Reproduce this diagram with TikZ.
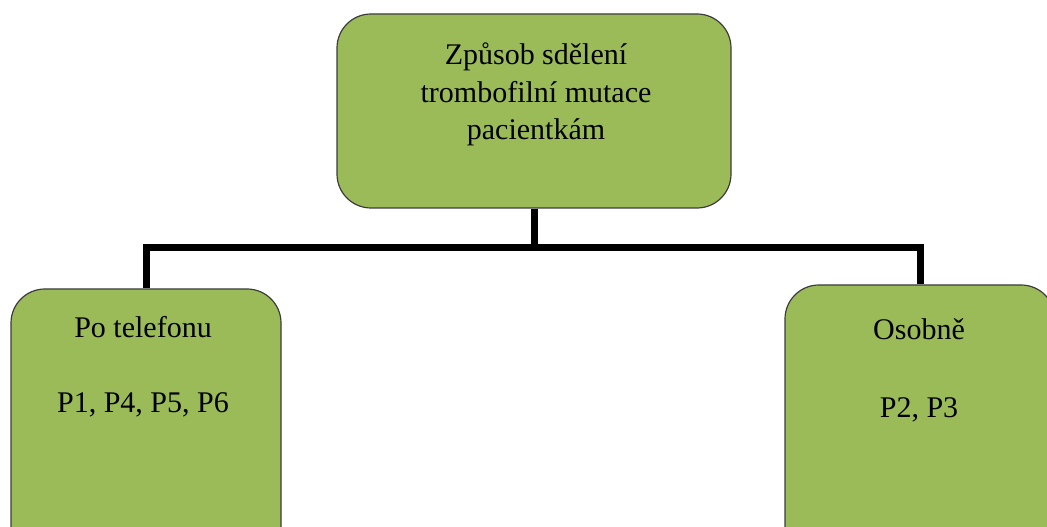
\documentclass[tikz,border=0pt]{standalone}
\usepackage{fontspec}
\setmainfont{Liberation Serif}
\usetikzlibrary{calc}
\definecolor{boxgreen}{HTML}{9BBB59}
\definecolor{boxedge}{HTML}{3C3C3C}
\tikzset{
  card/.style={draw=boxedge, line width=1.2pt, fill=boxgreen, rounded corners=34pt,
    inner sep=0pt, minimum width=#1},
  label/.style={align=center, anchor=base, inner sep=0pt,
    font=\fontsize{30}{37.5}\selectfont},
  conn/.style={draw=black, line width=7pt, line join=miter},
}
\begin{document}
\begin{tikzpicture}[x=1pt, y=1pt]
  \useasboundingbox (0,0) rectangle (1047,527);
  \clip (0,0) rectangle (1047,527);

  % boxes
  \node[card=394pt, minimum height=194pt] (top) at (534,416) {};
  \node[card=270pt, minimum height=270pt] (left) at (146,103) {};
  \node[card=270pt, minimum height=274pt] (right) at (920,105) {};

  % connectors
  \coordinate (bus) at ($(top.south)+(0,-38.5)$);
  \draw[conn] (top.south) -- (bus) -| (left.north);
  \draw[conn] (bus) -| (right.north);

  % texts (the base anchor sits on the last line)
  \node[label] (toptext) at (536,387) {Způsob sdělení\\trombofilní mutace\\pacientkám};
  \node[label] (lefttext) at (143,114) {Po telefonu\\[37.5pt]P1, P4, P5, P6};
  \node[label] (righttext) at (919,109) {Osobně\\[41pt]P2, P3};
\end{tikzpicture}
\end{document}
